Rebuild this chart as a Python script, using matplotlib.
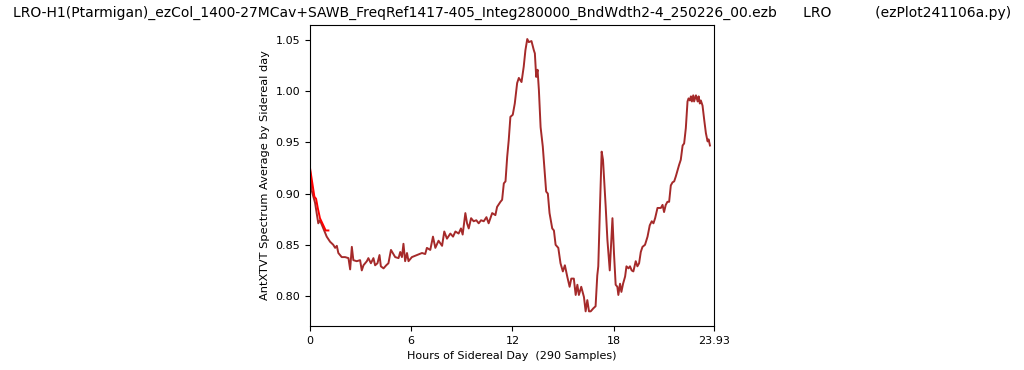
import matplotlib
matplotlib.use("Agg")
import matplotlib.pyplot as plt

title_text = ("LRO-H1(Ptarmigan)_ezCol_1400-27MCav+SAWB_FreqRef1417-405_Integ280000_BndWdth2-4_250226_00.ezb"
              "      LRO          (ezPlot241106a.py)")
x_label = "Hours of Sidereal Day  (290 Samples)"
y_label = "AntXTVT Spectrum Average by Sidereal day"
x_ticks = [0, 6, 12, 18, 23.93]
x_tick_labels = ["0", "6", "12", "18", "23.93"]

avg_hours = [
    0.00, 0.10, 0.30, 0.49, 0.59, 0.79, 0.99, 1.19, 1.38, 1.49, 1.59, 1.68, 1.88, 2.08, 2.28,
    2.38, 2.48, 2.57, 2.77, 2.97, 3.07, 3.17, 3.37, 3.46, 3.61, 3.76, 3.86, 4.00, 4.12, 4.20,
    4.36, 4.52, 4.65, 4.80, 4.91, 5.05, 5.25, 5.35, 5.45, 5.54, 5.64, 5.75, 5.84, 6.04, 6.34,
    6.64, 6.83, 6.93, 7.13, 7.29, 7.43, 7.62, 7.83, 7.96, 8.12, 8.32, 8.48, 8.62, 8.81, 8.95,
    9.05, 9.21, 9.31, 9.41, 9.55, 9.70, 9.86, 10.00, 10.14, 10.30, 10.46, 10.59, 10.80, 10.99,
    11.09, 11.29, 11.39, 11.49, 11.59, 11.69, 11.78, 11.88, 12.02, 12.14, 12.28, 12.38, 12.54,
    12.67, 12.77, 12.88, 12.97, 13.13, 13.27, 13.33, 13.41, 13.49, 13.57, 13.67, 13.80, 13.92,
    14.00, 14.10, 14.20, 14.36, 14.46, 14.56, 14.72, 14.85, 14.99, 15.11, 15.25, 15.39, 15.49,
    15.64, 15.75, 15.85, 15.94, 16.08, 16.24, 16.34, 16.44, 16.54, 16.64, 16.80, 16.93, 17.03,
    17.09, 17.19, 17.29, 17.37, 17.53, 17.63, 17.77, 17.93, 18.02, 18.12, 18.22, 18.28, 18.38,
    18.46, 18.56, 18.68, 18.76, 18.88, 18.97, 19.07, 19.17, 19.31, 19.41, 19.51, 19.61, 19.71,
    19.86, 20.01, 20.14, 20.26, 20.36, 20.46, 20.60, 20.69, 20.80, 20.90, 20.99, 21.09, 21.19,
    21.29, 21.39, 21.49, 21.59, 21.69, 21.79, 21.88, 21.98, 22.09, 22.18, 22.28, 22.38, 22.44,
    22.52, 22.58, 22.64, 22.72, 22.77, 22.88, 22.98, 23.04, 23.11, 23.17, 23.27, 23.37, 23.47,
    23.57, 23.63, 23.71,
]
avg_values = [
    0.923, 0.903, 0.891, 0.871, 0.874, 0.866, 0.858, 0.853, 0.850, 0.847, 0.849, 0.842, 0.838, 0.838, 0.837,
    0.826, 0.848, 0.835, 0.834, 0.835, 0.825, 0.830, 0.834, 0.837, 0.832, 0.837, 0.830, 0.832, 0.840, 0.829,
    0.827, 0.830, 0.832, 0.845, 0.842, 0.838, 0.837, 0.843, 0.838, 0.851, 0.834, 0.842, 0.834, 0.838, 0.840,
    0.842, 0.841, 0.847, 0.845, 0.858, 0.847, 0.854, 0.849, 0.863, 0.856, 0.861, 0.858, 0.863, 0.861, 0.866,
    0.860, 0.881, 0.871, 0.866, 0.876, 0.873, 0.874, 0.871, 0.874, 0.873, 0.877, 0.871, 0.881, 0.879,
    0.887, 0.892, 0.894, 0.910, 0.912, 0.936, 0.952, 0.975, 0.977, 0.988, 1.008, 1.013, 1.009,
    1.024, 1.040, 1.051, 1.048, 1.049, 1.040, 1.037, 1.014, 1.021, 1.001, 0.965, 0.946, 0.920,
    0.902, 0.900, 0.881, 0.866, 0.864, 0.850, 0.847, 0.832, 0.824, 0.830, 0.819, 0.809, 0.817,
    0.817, 0.801, 0.811, 0.801, 0.809, 0.799, 0.785, 0.796, 0.785, 0.785, 0.788, 0.790, 0.820,
    0.829, 0.887, 0.941, 0.933, 0.887, 0.855, 0.825, 0.876, 0.842, 0.811, 0.809, 0.801, 0.812,
    0.804, 0.812, 0.819, 0.829, 0.827, 0.829, 0.825, 0.824, 0.834, 0.829, 0.832, 0.843, 0.848,
    0.850, 0.858, 0.869, 0.873, 0.871, 0.876, 0.886, 0.886, 0.886, 0.889, 0.882, 0.889, 0.892,
    0.892, 0.908, 0.911, 0.912, 0.917, 0.923, 0.928, 0.933, 0.947, 0.949, 0.964, 0.990, 0.993,
    0.991, 0.995, 0.990, 0.996, 0.990, 0.996, 0.990, 0.995, 0.988, 0.991, 0.986, 0.972, 0.959,
    0.951, 0.953, 0.947,
]

start_hours = [0.00, 0.14, 0.26, 0.36, 0.46, 0.59, 0.79, 0.93, 1.09]
start_values = [0.925, 0.910, 0.897, 0.895, 0.886, 0.876, 0.869, 0.864, 0.864]

fig = plt.figure(figsize=(10.24, 3.70), dpi=100)
ax = fig.add_axes([310 / 1024, 1 - 326 / 370, 404 / 1024, 301 / 370])

ax.plot(avg_hours, avg_values, color="#A52A2A", linewidth=1.4)
ax.plot(start_hours, start_values, color="red", linewidth=1.4)

ax.set_xlim(0, 23.95)
ax.set_ylim(0.7707, 1.0647)
ax.set_xticks(x_ticks)
ax.set_xticklabels(x_tick_labels)
ax.tick_params(labelsize=8)
ax.set_xlabel(x_label, fontsize=8)
ax.set_ylabel(y_label, fontsize=8.2)
ax.set_title(title_text, fontsize=10)

fig.savefig("out.png", dpi=100)
